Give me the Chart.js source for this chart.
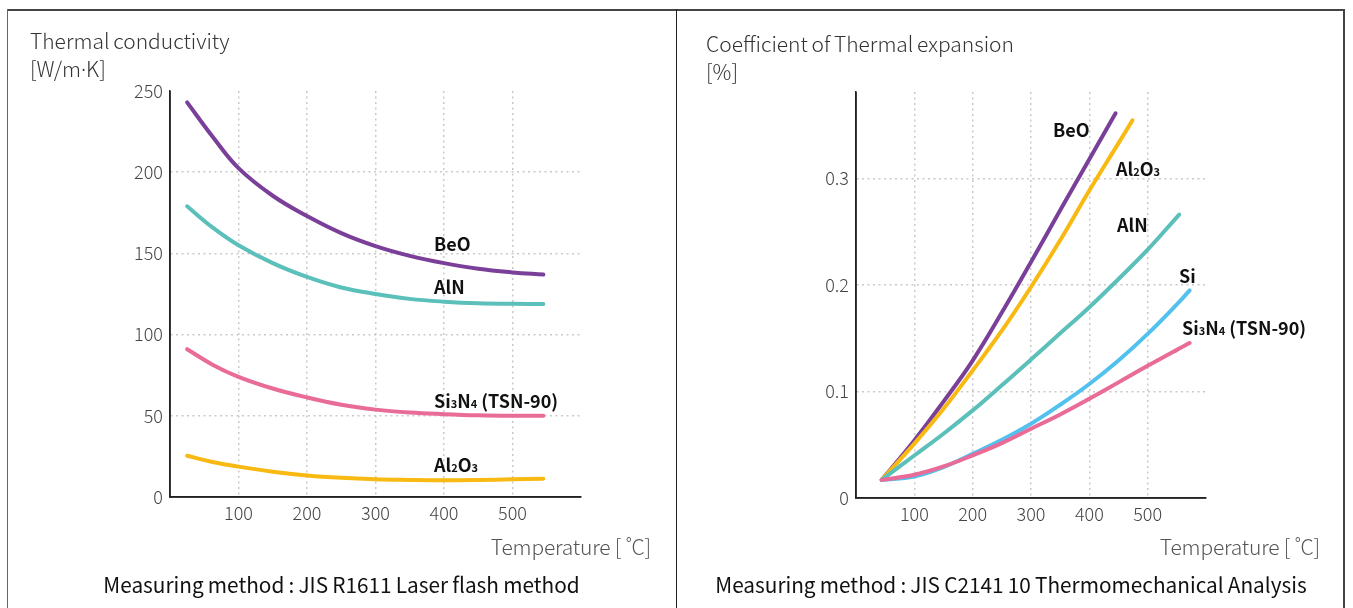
<!DOCTYPE html>
<html><head><meta charset="utf-8">
<script src="https://cdn.jsdelivr.net/npm/chart.js@4.4.0/dist/chart.umd.min.js"></script>
<style>
html,body{margin:0;padding:0;background:#fff;width:1353px;height:608px;overflow:hidden;font-family:"Noto Sans CJK JP","Noto Sans",sans-serif;}
.ln{position:absolute;background:#333;}
canvas{position:absolute;top:0;}
.t{position:absolute;white-space:nowrap;height:26px;line-height:26px;}
.title{font-size:21px;font-weight:300;color:#333;letter-spacing:0;word-spacing:-1px;}
.axl{font-size:21px;font-weight:300;color:#555;letter-spacing:-0.2px;}
.meth{font-size:20.8px;font-weight:400;color:#111;letter-spacing:0;word-spacing:-0.5px;}
.lab{font-size:18px;font-weight:700;color:#111;}
.lab small{font-size:11px;font-weight:700;}
.dot{font-family:"Noto Sans",sans-serif;}
</style></head>
<body>
<div class="ln" style="left:7px;top:9px;width:1338px;height:2px;background:#444"></div>
<div class="ln" style="left:7px;top:9px;width:1px;height:599px;background:#666"></div>
<div class="ln" style="left:676px;top:9px;width:1px;height:599px;background:#222"></div>
<div class="ln" style="left:1343px;top:9px;width:2px;height:599px;background:#444"></div>

<canvas id="c1" width="676" height="608" style="left:0"></canvas>
<canvas id="c2" width="677" height="608" style="left:676px"></canvas>

<div class="t title" style="left:30px;top:27px">Thermal conductivity</div>
<div class="t title" style="left:30px;top:55px">[W/m<span class="dot">·</span>K]</div>
<div class="t title" style="left:706px;top:30px">Coefficient of Thermal expansion</div>
<div class="t title" style="left:706px;top:58px">[%]</div>

<div class="t axl" style="right:702px;top:533px">Temperature [ ˚C]</div>
<div class="t axl" style="right:33px;top:533px">Temperature [ ˚C]</div>
<div class="t meth" style="left:0;width:683px;text-align:center;top:571px">Measuring method : JIS R1611 Laser flash method</div>
<div class="t meth" style="left:676px;width:670px;text-align:center;top:571px">Measuring method : JIS C2141 10 Thermomechanical Analysis</div>

<div class="t lab" style="left:434px;top:230px">BeO</div>
<div class="t lab" style="left:434px;top:273px">AlN</div>
<div class="t lab" style="left:434px;top:387px">Si<small>3</small>N<small>4</small> (TSN-90)</div>
<div class="t lab" style="left:434px;top:451px">Al<small>2</small>O<small>3</small></div>

<div class="t lab" style="left:1053px;top:116px">BeO</div>
<div class="t lab" style="left:1116px;top:155px">Al<small>2</small>O<small>3</small></div>
<div class="t lab" style="left:1117px;top:211px">AlN</div>
<div class="t lab" style="left:1179px;top:262px">Si</div>
<div class="t lab" style="left:1182px;top:314px">Si<small>3</small>N<small>4</small> (TSN-90)</div>

<script>
// ---------- Thermal conductivity (W/m·K) ----------
const tcTemps   = [25, 62, 100, 150, 200, 250, 300, 350, 400, 450, 500, 545];
const tcBeO     = [243, 222, 202.5, 185.5, 173, 162.5, 154.5, 148.5, 144, 140.5, 138.3, 137];
const tcAlN     = [179, 166, 155, 144, 135.5, 129, 125, 122, 120.3, 119.3, 119, 118.8];
const tcSi3N4   = [91, 81.5, 74, 66.8, 61.3, 56.8, 53.8, 52, 51, 50.3, 50, 50];
const tcAl2O3   = [25.4, 21.6, 18.7, 15.6, 13.3, 11.8, 10.9, 10.5, 10.3, 10.5, 10.9, 11.3];
const tcYTicks  = [0, 50, 100, 150, 200, 250];
const tcXTicks  = [100, 200, 300, 400, 500];

// ---------- Coefficient of thermal expansion (%) ----------
const ceBeOTemps   = [44, 100, 150, 200, 250, 300, 350, 400, 445];
const ceBeO        = [0.017, 0.054, 0.0905, 0.129, 0.174, 0.2214, 0.270, 0.318, 0.361];
const ceAl2O3Temps = [44, 100, 150, 200, 250, 300, 350, 400, 450, 474];
const ceAl2O3      = [0.017, 0.051, 0.0837, 0.1197, 0.157, 0.198, 0.2418, 0.2885, 0.333, 0.3545];
const ceAlNTemps   = [44, 100, 150, 200, 250, 300, 350, 400, 450, 500, 554];
const ceAlN        = [0.017, 0.0399, 0.0603, 0.0822, 0.1058, 0.1300, 0.1545, 0.179, 0.2055, 0.233, 0.266];
const ceSiTemps    = [44, 100, 150, 200, 250, 300, 350, 400, 450, 500, 550, 572];
const ceSi         = [0.017, 0.0202, 0.029, 0.0415, 0.0546, 0.0697, 0.0875, 0.107, 0.129, 0.154, 0.1817, 0.1948];
const ceSi3N4Temps = [44, 100, 150, 200, 250, 300, 350, 400, 450, 500, 550, 572];
const ceSi3N4      = [0.017, 0.0218, 0.0296, 0.040, 0.0515, 0.065, 0.0784, 0.0931, 0.1085, 0.124, 0.139, 0.1454];
const ceYTicks  = [0, 0.1, 0.2, 0.3];
const ceXTicks  = [100, 200, 300, 400, 500];

const COL = {BeO:'#7a3f98', AlN:'#5bbfba', Si3N4:'#e96b98', Al2O3:'#f7b912', Si:'#52c1ee'};
const FONT = '"Noto Sans CJK JP", "Noto Sans", sans-serif';

function pts(xs, ys){ return xs.map((x,i)=>({x:x, y:ys[i]})); }
function ds(label, xs, ys, color){
  return {label, data:pts(xs,ys), borderColor:color, backgroundColor:color, borderWidth:4,
    pointRadius:0, tension:0.4, borderCapStyle:'round', borderJoinStyle:'round', fill:false};
}
function opts(yMax, yTicks, xTicks, pad, yfmt, hideGridVals){
  return {
    responsive:false, animation:false, devicePixelRatio:1,
    layout:{padding:pad},
    plugins:{legend:{display:false}, tooltip:{enabled:false}},
    scales:{
      x:{type:'linear', min:0, max:600,
        afterBuildTicks:s=>{ s.ticks = xTicks.map(v=>({value:v})); },
        afterFit:s=>{ s.height = 30; },
        grid:{drawTicks:false, color:'#c9c9c9', lineWidth:1.5},
        border:{display:true, color:'#222', width:1.5, dash:[2,3.5]},
        ticks:{padding:5, color:'#444', font:{family:FONT, size:18, weight:'300'}}
      },
      y:{type:'linear', min:0, max:yMax,
        afterBuildTicks:s=>{ s.ticks = yTicks.map(v=>({value:v})); },
        afterFit:s=>{ s.width = 70; },
        grid:{drawTicks:false, lineWidth:1.5,
          color:c=> hideGridVals.includes(c.tick.value) ? 'rgba(0,0,0,0)' : '#c9c9c9'},
        border:{display:true, color:'#222', width:1.5, dash:[2,3.5]},
        ticks:{padding:7, color:'#444', font:{family:FONT, size:18, weight:'300'},
          callback:v=>yfmt(v)}
      }
    }
  };
}
const axisPlugin = {
  id:'axes',
  afterDraw(chart){
    const {ctx, chartArea:a} = chart;
    ctx.save(); ctx.strokeStyle='#222'; ctx.lineWidth=1.5; ctx.setLineDash([]);
    ctx.beginPath(); ctx.moveTo(a.left, a.top); ctx.lineTo(a.left, a.bottom); ctx.lineTo(a.right, a.bottom); ctx.stroke();
    ctx.restore();
  }
};

document.fonts.load('18px "Noto Sans CJK JP"').finally(()=>{
  new Chart(document.getElementById('c1'), {
    type:'line',
    data:{datasets:[
      ds('BeO', tcTemps, tcBeO, COL.BeO),
      ds('AlN', tcTemps, tcAlN, COL.AlN),
      ds('Si3N4 (TSN-90)', tcTemps, tcSi3N4, COL.Si3N4),
      ds('Al2O3', tcTemps, tcAl2O3, COL.Al2O3)
    ]},
    options:opts(250, tcYTicks, tcXTicks, {left:100, right:95, top:91, bottom:81}, v=>String(v), [0,250]),
    plugins:[axisPlugin]
  });
  new Chart(document.getElementById('c2'), {
    type:'line',
    data:{datasets:[
      ds('Si3N4 (TSN-90)', ceSi3N4Temps, ceSi3N4, COL.Si3N4),
      ds('Si', ceSiTemps, ceSi, COL.Si),
      ds('AlN', ceAlNTemps, ceAlN, COL.AlN),
      ds('Al2O3', ceAl2O3Temps, ceAl2O3, COL.Al2O3),
      ds('BeO', ceBeOTemps, ceBeO, COL.BeO)
    ]},
    options:opts(0.381, ceYTicks, ceXTicks, {left:110, right:147, top:92, bottom:80}, v=>v===0?'0':v.toFixed(1), [0]),
    plugins:[axisPlugin]
  });
});
</script>
</body></html>
